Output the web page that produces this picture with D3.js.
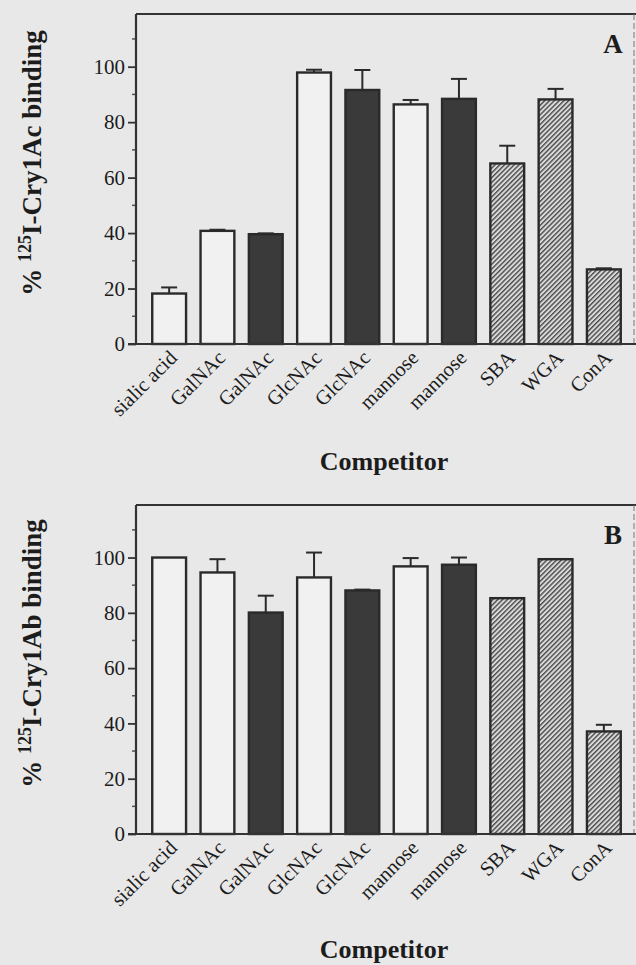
<!DOCTYPE html>
<html>
<head>
<meta charset="utf-8">
<script src="https://cdn.jsdelivr.net/npm/d3@7"></script>
<style>
  html, body { margin: 0; padding: 0; background: #e8e8e8; }
  svg { display: block; }
  text { font-family: "Liberation Serif", "Times New Roman", serif; fill: #1c1c1c; }
</style>
</head>
<body>
<div id="chart"></div>
<script>
// competitors along x, same for both panels
const competitors = ["sialic acid", "GalNAc", "GalNAc", "GlcNAc", "GlcNAc", "mannose", "mannose", "SBA", "WGA", "ConA"];
const fillKind = ["open", "open", "solid", "open", "solid", "open", "solid", "hatch", "hatch", "hatch"];

// panel A: Cry1Ac
const cry1AcMean = [18.2, 40.8, 39.6, 97.9, 91.6, 86.4, 88.4, 65.1, 88.2, 26.9];
const cry1AcErr  = [2.2, 0.4, 0.3, 1.0, 7.2, 1.6, 7.2, 6.4, 3.8, 0.4];

// panel B: Cry1Ab
const cry1AbMean = [100, 94.6, 80.1, 92.8, 88.1, 96.8, 97.4, 85.3, 99.4, 37.1];
const cry1AbErr  = [0, 4.8, 6.1, 9.0, 0.3, 3.0, 2.6, 0, 0, 2.4];

const yTicks = [0, 20, 40, 60, 80, 100];
const yMinor = [10, 30, 50, 70, 90, 110];

const W = 636, H = 965;

const svg = d3.select("#chart").append("svg")
    .attr("width", W)
    .attr("height", H);

// hatch for the lectins
const defs = svg.append("defs");
const pat = defs.append("pattern")
    .attr("id", "hatch")
    .attr("patternUnits", "userSpaceOnUse")
    .attr("width", 3.4)
    .attr("height", 3.4)
    .attr("patternTransform", "rotate(45)");
pat.append("rect").attr("width", 3.4).attr("height", 3.4).attr("fill", "#dadada");
pat.append("line")
    .attr("x1", 0.7).attr("y1", 0).attr("x2", 0.7).attr("y2", 3.4)
    .attr("stroke", "#4a4a4a").attr("stroke-width", 1.4);

const fills = { open: "#f1f1f1", solid: "#3a3a3a", hatch: "url(#hatch)" };

const x = d3.scaleBand()
    .domain(d3.range(competitors.length))
    .range([145, 628])
    .paddingInner(0.3)
    .paddingOuter(0.15);

function drawPanel(cfg) {
    const y = d3.scaleLinear().domain([0, 119]).range([cfg.bottom, cfg.top]);
    const g = svg.append("g");

    // frame: top and right
    g.append("line")
        .attr("x1", 136).attr("x2", W).attr("y1", cfg.top).attr("y2", cfg.top)
        .attr("stroke", "#333").attr("stroke-width", 2);
    g.append("line")
        .attr("x1", 634).attr("x2", 634).attr("y1", cfg.top).attr("y2", cfg.bottom)
        .attr("stroke", "#777").attr("stroke-width", 1)
        .attr("stroke-dasharray", "6,3");

    // bars
    g.selectAll("rect.bar")
        .data(cfg.mean)
        .enter()
        .append("rect")
        .attr("class", "bar")
        .attr("x", (d, i) => x(i))
        .attr("width", x.bandwidth())
        .attr("y", d => y(d))
        .attr("height", d => y(0) - y(d))
        .attr("fill", (d, i) => fills[fillKind[i]])
        .attr("stroke", "#2a2a2a")
        .attr("stroke-width", 2.4);

    // error bars (upper half only)
    const eb = g.selectAll("g.err")
        .data(cfg.mean.map((m, i) => ({ i: i, m: m, e: cfg.err[i] })).filter(d => d.e > 0))
        .enter()
        .append("g")
        .attr("class", "err");
    eb.append("line")
        .attr("x1", d => x(d.i) + x.bandwidth() / 2)
        .attr("x2", d => x(d.i) + x.bandwidth() / 2)
        .attr("y1", d => y(d.m))
        .attr("y2", d => y(d.m + d.e))
        .attr("stroke", "#2a2a2a").attr("stroke-width", 2);
    eb.append("line")
        .attr("x1", d => x(d.i) + x.bandwidth() / 2 - 8)
        .attr("x2", d => x(d.i) + x.bandwidth() / 2 + 8)
        .attr("y1", d => y(d.m + d.e))
        .attr("y2", d => y(d.m + d.e))
        .attr("stroke", "#2a2a2a").attr("stroke-width", 2);

    // y axis
    const yAxis = g.append("g")
        .attr("transform", "translate(136,0)")
        .call(d3.axisLeft(y).tickValues(yTicks).tickSize(8).tickPadding(3));
    yAxis.select(".domain").remove();
    yAxis.selectAll(".tick line").attr("stroke", "#333").attr("stroke-width", 1.8);
    yAxis.selectAll(".tick text")
        .style("font-family", "'Liberation Serif', serif")
        .style("font-size", "21px")
        .attr("fill", "#1c1c1c");
    g.selectAll("line.minor")
        .data(yMinor)
        .enter()
        .append("line")
        .attr("class", "minor")
        .attr("x1", 132).attr("x2", 136)
        .attr("y1", d => y(d)).attr("y2", d => y(d))
        .attr("stroke", "#555").attr("stroke-width", 1.5);
    g.append("line")
        .attr("x1", 136).attr("x2", 136).attr("y1", cfg.top).attr("y2", cfg.bottom)
        .attr("stroke", "#333").attr("stroke-width", 2.2);

    // x axis baseline
    g.append("line")
        .attr("x1", 128).attr("x2", W).attr("y1", cfg.bottom).attr("y2", cfg.bottom)
        .attr("stroke", "#333").attr("stroke-width", 2.2);

    // category labels
    g.selectAll("text.cat")
        .data(competitors)
        .enter()
        .append("text")
        .attr("class", "cat")
        .attr("text-anchor", "end")
        .attr("transform", (d, i) => "translate(" + (x(i) + x.bandwidth() / 2 + 9) + "," + (cfg.bottom + 15) + ") rotate(-45)")
        .style("font-size", "20.5px")
        .text(d => d);

    // x title
    g.append("text")
        .attr("x", 384)
        .attr("y", cfg.xTitleY)
        .attr("text-anchor", "middle")
        .style("font-size", "26px")
        .style("font-weight", "bold")
        .text("Competitor");

    // y title
    const yt = g.append("text")
        .attr("transform", "translate(41," + ((cfg.top + cfg.bottom) / 2 - 16) + ") rotate(-90)")
        .attr("text-anchor", "middle")
        .style("font-size", "27px")
        .style("font-weight", "bold");
    yt.append("tspan").text("% ");
    yt.append("tspan").attr("dy", -10).style("font-size", "18px").text("125");
    yt.append("tspan").attr("dy", 10).text("I-" + cfg.toxin + " binding");

    // panel letter
    g.append("text")
        .attr("x", 613)
        .attr("y", cfg.top + 39)
        .attr("text-anchor", "middle")
        .style("font-size", "27px")
        .style("font-weight", "bold")
        .text(cfg.letter);
}

drawPanel({ top: 14, bottom: 344, mean: cry1AcMean, err: cry1AcErr, toxin: "Cry1Ac", letter: "A", xTitleY: 470 });
drawPanel({ top: 505, bottom: 834, mean: cry1AbMean, err: cry1AbErr, toxin: "Cry1Ab", letter: "B", xTitleY: 958 });
</script>
</body>
</html>
